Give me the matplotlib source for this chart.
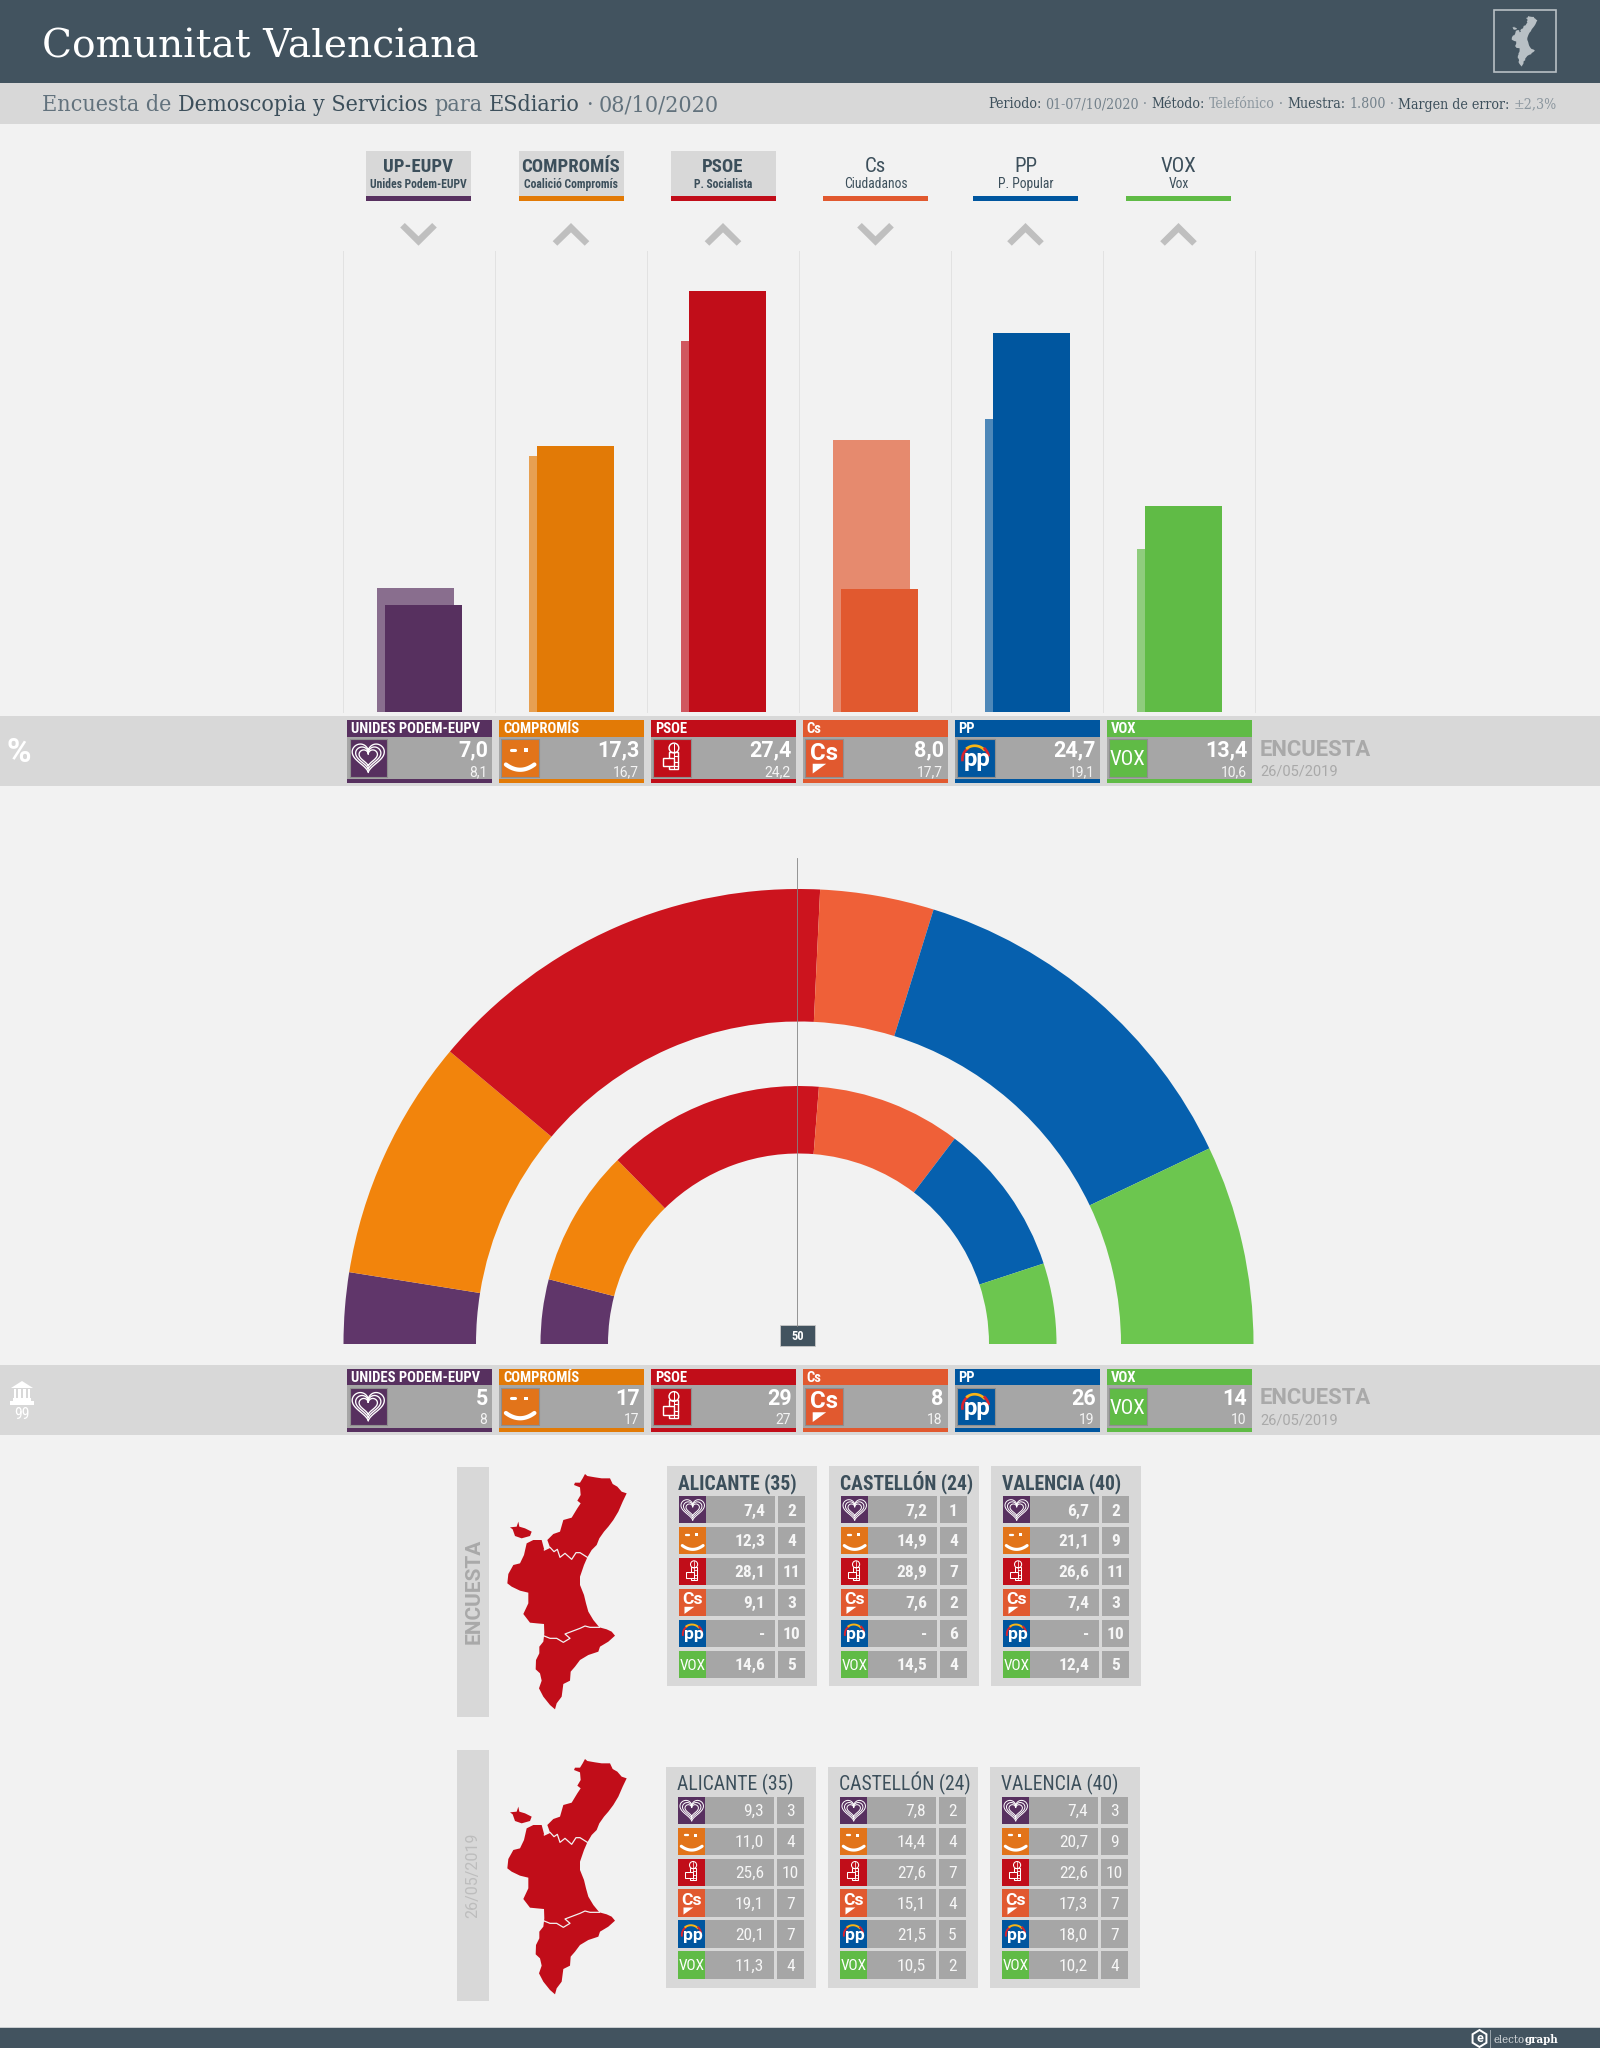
import matplotlib
matplotlib.use('Agg')
import matplotlib.pyplot as plt
from matplotlib.patches import Rectangle, Polygon, Circle
import numpy as np

# partidos
party_short = ['UP-EUPV', 'COMPROMÍS', 'PSOE', 'Cs', 'PP', 'VOX']
party_long = ['Unides Podem-EUPV', 'Coalició Compromís', 'P. Socialista', 'Ciudadanos', 'P. Popular', 'Vox']
party_card = ['UNIDES PODEM-EUPV', 'COMPROMÍS', 'PSOE', 'Cs', 'PP', 'VOX']
bar_colors = ['#57305f', '#e27a06', '#c10d19', '#e1592f', '#00569f', '#60bb46']
arc_colors = ['#60366a', '#f2840c', '#cc141e', '#ef6038', '#0660ae', '#6cc64f']

# estimacion de voto y escanos
pct_now = [7.0, 17.3, 27.4, 8.0, 24.7, 13.4]
pct_prev = [8.1, 16.7, 24.2, 17.7, 19.1, 10.6]
seats_now = [5, 17, 29, 8, 26, 14]
seats_prev = [8, 17, 27, 18, 19, 10]

# provincias
provinces = ['ALICANTE (35)', 'CASTELLÓN (24)', 'VALENCIA (40)']
poll_pct = [
    [7.4, 12.3, 28.1, 9.1, None, 14.6],
    [7.2, 14.9, 28.9, 7.6, None, 14.5],
    [6.7, 21.1, 26.6, 7.4, None, 12.4],
]
poll_seats = [
    [2, 4, 11, 3, 10, 5],
    [1, 4, 7, 2, 6, 4],
    [2, 9, 11, 3, 10, 5],
]
prev_pct = [
    [9.3, 11.0, 25.6, 19.1, 20.1, 11.3],
    [7.8, 14.4, 27.6, 15.1, 21.5, 10.5],
    [7.4, 20.7, 22.6, 17.3, 18.0, 10.2],
]
prev_seats = [
    [3, 4, 10, 7, 7, 4],
    [2, 4, 7, 4, 5, 2],
    [3, 9, 10, 7, 7, 4],
]

# contorno del mapa
map_outline = [(255, 12), (262, 18), (285, 22), (305, 25), (330, 25), (338, 42), (352, 50), (365, 65), (380, 70),
               (368, 95), (355, 125), (340, 150), (325, 170), (312, 185), (298, 205), (290, 225), (275, 240),
               (262, 262), (252, 285), (240, 320), (240, 345), (252, 375), (258, 400), (265, 425), (280, 450),
               (298, 472), (320, 478), (335, 485), (345, 497), (325, 515), (300, 530), (295, 545), (265, 555),
               (240, 570), (225, 590), (212, 605), (210, 632), (190, 642), (185, 680), (170, 700), (165, 718),
               (150, 705), (130, 680), (117, 655), (125, 632), (120, 610), (107, 598), (108, 570), (118, 550),
               (118, 530), (130, 515), (133, 490), (132, 462), (110, 460), (90, 458), (70, 432), (85, 400),
               (85, 368), (60, 362), (35, 350), (22, 340), (25, 312), (40, 285), (60, 280), (72, 255), (80, 220),
               (100, 210), (125, 210), (133, 240), (150, 232), (142, 210), (160, 192), (180, 185), (190, 150),
               (215, 143), (232, 115), (242, 100), (232, 92), (242, 75), (240, 52), (222, 45), (225, 38), (240, 38),
               (248, 25)]
map_islet = [(55, 155), (58, 170), (75, 175), (95, 185), (90, 198), (65, 205), (45, 198), (38, 178), (30, 172), (50, 170)]
map_border_n = [(133, 240), (150, 232), (162, 245), (172, 238), (180, 262), (195, 250), (215, 268), (228, 248), (240, 248), (262, 262)]
map_border_s = [(130, 497), (150, 505), (170, 505), (190, 517), (210, 505), (195, 492), (240, 475), (255, 468), (270, 472), (298, 472)]

DARK = '#42535f'
INK = '#3c4f5b'
GREY = '#d8d8d8'
CELL = '#a6a6a6'
MUTED = '#a9a9a9'
W, H = 1600, 2048

plt.rcParams['font.family'] = 'Roboto'
fig = plt.figure(figsize=(W / 100, H / 100), dpi=100, facecolor='#f2f2f2')


def px_axes(x0, y0, x1, y1, z=1):
    a = fig.add_axes([x0 / W, 1 - y1 / H, (x1 - x0) / W, (y1 - y0) / H], zorder=z)
    a.patch.set_visible(False)
    return a


# barras
bax = px_axes(342.8, 251, 1254.8, 712)
idx = np.arange(len(pct_now))
bax.bar(idx + 0.481, pct_prev, width=0.507, color=bar_colors, alpha=0.68, zorder=2)
bax.bar(idx + 0.531, pct_now, width=0.507, color=bar_colors, zorder=3)
for i in range(len(pct_now) + 1):
    bax.axvline(i, color='#e2e2e2', lw=0.7, zorder=1, clip_on=False)
bax.set_xlim(0, 6)
bax.set_ylim(0, 461 / 15.35)
bax.axis('off')

# hemiciclos
hax = px_axes(338.5, 884, 1258.5, 1344)
for seats, radius, ring in ((seats_now, 455, 132.5), (seats_prev, 258, 67.5)):
    hax.pie(seats + [sum(seats)], colors=arc_colors + ['none'], startangle=180, counterclock=False,
            radius=radius, wedgeprops=dict(width=ring, linewidth=0))
hax.set_xlim(-460, 460)
hax.set_ylim(0, 460)

# capa principal en pixeles
ax = px_axes(0, 0, W, H, z=3)
ax.set_xlim(0, W)
ax.set_ylim(H, 0)
ax.axis('off')


def box(x0, y0, x1, y1, color, **kw):
    ax.add_patch(Rectangle((x0, y0), x1 - x0, y1 - y0, facecolor=color, edgecolor=kw.pop('ec', 'none'),
                           lw=kw.pop('lw', 0), **kw))


def text_run(x, y, parts, size, gap=6, stretch='condensed'):
    rend = fig.canvas.get_renderer()
    for txt, col in parts:
        t = ax.text(x, y, txt, color=col, fontsize=size, family='DejaVu Serif', stretch=stretch, va='baseline')
        x = t.get_window_extent(rend).x1 + gap


def draw_map(x0, y0, scale, color, edge=True):
    conv = lambda p: np.array(p, float) / 3 * scale + [x0, y0]
    ax.add_patch(Polygon(conv(map_outline), closed=True, facecolor=color, edgecolor='none'))
    ax.add_patch(Polygon(conv(map_islet), closed=True, facecolor=color, edgecolor='none'))
    if edge:
        for b in (map_border_n, map_border_s):
            c = conv(b)
            ax.plot(c[:, 0], c[:, 1], color='#f2f2f2', lw=0.9)


def draw_icon(i, x, y, s, border=False):
    """logo del partido i en un cuadrado de lado s"""
    box(x, y, x + s, y + s, bar_colors[i] if i != 1 else '#e2741a',
        ec='#8f8f8f' if border else 'none', lw=0.8 if border else 0)
    cx, cy = x + s / 2, y + s / 2
    lw = s / 37
    if i == 0:
        t = np.linspace(0, 2 * np.pi, 90)
        hx = 16 * np.sin(t) ** 3
        hy = 13 * np.cos(t) - 5 * np.cos(2 * t) - 2 * np.cos(3 * t) - np.cos(4 * t)
        for k in (0.42, 0.33, 0.24):
            ax.plot(cx + hx / 16 * s * k * 1.02, cy - (hy + 2) / 16 * s * k, color='white', lw=0.95 * lw)
    elif i == 1:
        ax.plot([x + .25 * s, x + .37 * s], [y + .28 * s] * 2, color='white', lw=2.2 * lw, solid_capstyle='round')
        box(x + .60 * s, y + .24 * s, x + .70 * s, y + .34 * s, 'white')
        u = np.linspace(-1, 1, 30)
        ax.plot(cx + u * .38 * s, y + (.68 + .14 * (1 - u ** 2)) * s, color='white', lw=3 * lw, solid_capstyle='round')
    elif i == 2:
        ax.add_patch(Circle((x + .55 * s, y + .24 * s), .13 * s, fill=False, ec='white', lw=1.0 * lw))
        ax.add_patch(Rectangle((x + .42 * s, y + .34 * s), .24 * s, .46 * s, fill=False, ec='white', lw=1.0 * lw))
        ax.add_patch(Rectangle((x + .27 * s, y + .50 * s), .27 * s, .22 * s, facecolor=bar_colors[2], ec='white', lw=1.0 * lw))
        for k in (.44, .62, .72):
            ax.plot([x + .54 * s, x + .66 * s], [y + k * s] * 2, color='white', lw=.8 * lw)
        ax.plot([x + .54 * s] * 2, [y + .12 * s, y + .80 * s], color='white', lw=.7 * lw)
    elif i == 3:
        ax.text(cx, y + .56 * s, 'Cs', color='white', fontsize=s * .46, fontweight='bold', ha='center', va='baseline')
        ax.add_patch(Polygon([(x + .2 * s, y + .66 * s), (x + .56 * s, y + .66 * s), (x + .2 * s, y + .92 * s)],
                             closed=True, facecolor='white', edgecolor='none'))
    elif i == 4:
        for a0, a1, col, r in ((185, 125, '#d9232e', .33), (125, 45, '#f7b516', .35), (45, 15, '#d9232e', .38)):
            t = np.radians(np.linspace(a0, a1, 20))
            ax.plot(cx - .03 * s + r * s * np.cos(t), cy + .03 * s - r * s * np.sin(t), color=col, lw=1.9 * lw)
        ax.text(cx + .03 * s, y + .72 * s, 'pp', color='white', fontsize=s * .46, fontweight='bold', ha='center', va='baseline')
    else:
        ax.text(cx, cy, 'VOX', color='white', fontsize=s * .40, family='Roboto Condensed', ha='center', va='center_baseline')


def fmt(v):
    return '-' if v is None else f'{v:.1f}'.replace('.', ',')


# cabecera
box(0, 0, W, 82.5, DARK)
box(0, 83, W, 124, GREY)
text_run(42, 57, [('Comunitat Valenciana', 'white')], 28.2, stretch='normal')
text_run(42, 111, [('Encuesta de', '#62727d'), ('Demoscopia y Servicios', INK), ('para', '#62727d'),
                   ('ESdiario', INK), ('·', '#62727d'), ('08/10/2020', '#62727d')], 16.7, gap=6.5)
text_run(988, 108.5, [('Periodo:', INK), ('01-07/10/2020', '#73818b'), ('·', '#73818b'), ('Método:', INK),
                      ('Telefónico', '#8b969e'), ('·', '#73818b'), ('Muestra:', INK), ('1.800', '#73818b'),
                      ('·', '#73818b'), ('Margen de error:', INK), ('±2,3%', '#8b969e')], 10.2, gap=4.2)
ax.add_patch(Rectangle((1493.5, 10), 62, 62, fill=False, ec='#b8c0c5', lw=1.2))
draw_map(1510.1, 15.1, .215, '#b8c0c5', edge=False)

# cabeceras de columna y flechas
col_cx = [418.5, 571, 723, 875.5, 1025.5, 1178.5]
for i, cx in enumerate(col_cx):
    selected = i < 3
    if selected:
        box(cx - 52.5, 151, cx + 52.5, 196, GREY)
    box(cx - 52.5, 196, cx + 52.5, 200.5, bar_colors[i])
    ax.text(cx, 172, party_short[i], color=INK, fontsize=13.5 if selected else 15, family='Roboto Condensed',
            fontweight='bold' if selected else 'normal', ha='center', va='baseline')
    ax.text(cx, 188, party_long[i], color=INK, fontsize=8.4 if selected else 9.8, family='Roboto Condensed',
            fontweight='bold' if selected else 'normal', ha='center', va='baseline')
    # la flecha sale de comparar con 2019
    if pct_now[i] >= pct_prev[i]:
        shape = [(-13.7, 22.7), (0, 9.4), (13.7, 22.7), (18.3, 18.2), (0, 0), (-18.3, 18.2)]
    else:
        shape = [(-13.7, 0), (0, 13.3), (13.7, 0), (18.3, 4.5), (0, 22.7), (-18.3, 4.5)]
    ax.add_patch(Polygon([(cx + a, 223 + b) for a, b in shape], closed=True, facecolor='#bfbfbf', edgecolor='none'))


def card_row(dy, now, prev, big_fmt, small_fmt):
    box(0, 716 + dy, W, 786 + dy, GREY)
    for i in range(6):
        x0 = 347 + 151.9 * i
        box(x0, 720 + dy, x0 + 145, 783 + dy, CELL)
        box(x0, 720 + dy, x0 + 145, 736.7 + dy, bar_colors[i])
        box(x0, 779 + dy, x0 + 145, 783 + dy, bar_colors[i])
        ax.text(x0 + 4, 733 + dy, party_card[i], color='white', fontsize=10.5, family='Roboto Condensed',
                fontweight='bold', va='baseline')
        draw_icon(i, x0 + 2.5, 739 + dy, 37.5, border=True)
        ax.text(x0 + 141, 756.7 + dy, big_fmt(now[i]), color='white', fontsize=15.5, fontweight='bold', ha='right', va='baseline')
        ax.text(x0 + 140, 776 + dy, small_fmt(prev[i]), color='#f4f4f4', fontsize=10, ha='right', va='baseline')
    ax.text(1260, 756 + dy, 'ENCUESTA', color=MUTED, fontsize=15.8, fontweight='bold', va='baseline')
    ax.text(1260, 776 + dy, '26/05/2019', color=MUTED, fontsize=10.5, va='baseline')


card_row(0, pct_now, pct_prev, fmt, fmt)
card_row(648.5, seats_now, seats_prev, str, str)
ax.text(7, 762, '%', color='white', fontsize=24, fontweight='bold', va='baseline')

# icono del parlamento
box(10, 1401, 34, 1405, 'white')
box(13, 1398, 31, 1400.5, 'white')
for cx in (15, 19.5, 24.5, 29):
    box(cx - 1.2, 1389, cx + 1.2, 1398, 'white')
ax.add_patch(Polygon([(22, 1381), (33, 1388), (11, 1388)], closed=True, facecolor='white', edgecolor='none'))
ax.text(22, 1419, '99', color='white', fontsize=11.5, family='Roboto Condensed', ha='center', va='baseline')

# linea de mayoria
ax.plot([797.3, 797.3], [858, 1326], color='#858585', lw=0.6)
box(780, 1325, 815, 1346, DARK, ec='#c8c8c8', lw=0.6)
ax.text(797.5, 1340, '50', color='white', fontsize=9, fontweight='bold', family='Roboto Condensed', ha='center', va='baseline')


def table_block(top, pct, seats, weight, x0, first_row, title_y, bottom, title_size):
    for p in range(3):
        px = x0 + 162 * p
        box(px, top, px + 150, bottom, GREY)
        ax.text(px + 11, title_y, provinces[p], color=INK, fontsize=title_size, fontweight=weight,
                family='Roboto Condensed', va='baseline')
        for r in range(6):
            y = first_row + 30.9 * r
            draw_icon(r, px + 12, y, 27.4)
            box(px + 39.4, y, px + 108, y + 27.4, CELL)
            box(px + 111, y, px + 138, y + 27.4, CELL)
            ax.text(px + 98, y + 19.5, fmt(pct[p][r]), color='#f6f6f6', fontsize=12.5, fontweight=weight,
                    family='Roboto Condensed', ha='right', va='baseline')
            ax.text(px + 124.5, y + 19.5, str(seats[p][r]), color='#f6f6f6', fontsize=12.5, fontweight=weight,
                    family='Roboto Condensed', ha='center', va='baseline')


# bloque encuesta
box(457, 1467, 489, 1717, GREY)
ax.text(474, 1591.5, 'ENCUESTA', color=MUTED, fontsize=15, fontweight='bold', rotation=90, ha='center', va='center')
draw_map(500, 1470, 1, '#c10d19')
table_block(1466, poll_pct, poll_seats, 'bold', 667, 1496, 1489, 1686, 14.1)

# bloque 2019
box(457, 1750, 489, 2000.5, GREY)
ax.text(473, 1875.5, '26/05/2019', color='#bdbdbd', fontsize=11.5, rotation=90, ha='center', va='center')
draw_map(500, 1755, 1, '#c10d19')
table_block(1767, prev_pct, prev_seats, 'normal', 666, 1796.7, 1790, 1988, 14.1)

# pie
box(0, 2026.5, W, 2027.5, '#c9cdd0')
box(0, 2027.5, W, H, DARK)
t = np.radians(np.arange(30, 390, 60))
ax.add_patch(Polygon(np.c_[1479.5 + 8 * np.cos(t), 2038.5 + 8.5 * np.sin(t)], closed=True, fill=False, ec='white', lw=1.4))
ax.text(1479.5, 2042.5, 'e', color='white', fontsize=9, fontweight='bold', ha='center', va='baseline')
ax.plot([1490, 1490], [2030, 2047], color='#9aa5ac', lw=0.7)
text_run(1493, 2043, [('electo', '#d5d9dc')], 8.2, gap=0)
ax.text(1525, 2043, 'graph', color='white', fontsize=8.2, fontweight='bold', family='DejaVu Serif', stretch='condensed', va='baseline')

fig.savefig('out.png', dpi=100, facecolor=fig.get_facecolor())
